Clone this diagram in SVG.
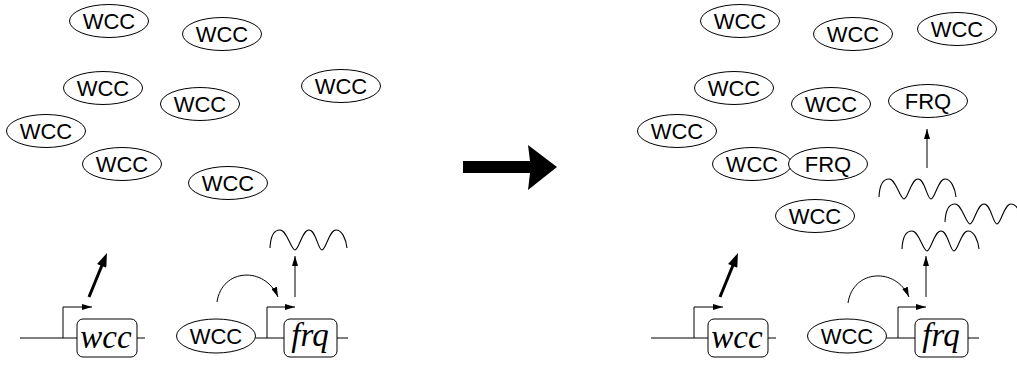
<svg xmlns="http://www.w3.org/2000/svg" width="1017" height="365" viewBox="0 0 1017 365">
<style>
.el{fill:#fff;stroke:#000;stroke-width:1}
.lb{font-family:"Liberation Sans",Arial,sans-serif;font-size:22px;text-anchor:middle;fill:#000}
.gn{font-family:"Liberation Serif","Times New Roman",serif;font-style:italic;font-size:33px;text-anchor:middle;fill:#000}
.bx{fill:#fff;stroke:#000;stroke-width:1}
.ln{fill:none;stroke:#000;stroke-width:1}
.bold{fill:none;stroke:#000;stroke-width:3}
.wv{fill:none;stroke:#000;stroke-width:1.1}
</style>
<defs>
<marker id="ah" viewBox="0 0 10 6" refX="10" refY="3" markerWidth="10" markerHeight="6" markerUnits="userSpaceOnUse" orient="auto"><path d="M0,0 L10,3 L0,6 z" fill="#000"/></marker>
<marker id="bh" viewBox="0 0 14 10" refX="3" refY="5" markerWidth="15" markerHeight="10" markerUnits="userSpaceOnUse" orient="auto"><path d="M0,0 L14,5 L0,10 z" fill="#000"/></marker>
<path id="wave" d="M270,248 C270.5,237 274,230 280,230 C287,230 291,250 295,250 C299,250 302,230 309,230 C316,230 318,250 322,250 C326,250 329,230 336,230 C342,230 346,239 347,248"/>
</defs>

<!-- Left panel free WCC -->
<g id="wcc-l1"><ellipse class="el" cx="109" cy="21" rx="39.5" ry="16.5"/><text class="lb" x="109" y="29">WCC</text></g>
<g id="wcc-l2"><ellipse class="el" cx="222" cy="34" rx="39.5" ry="16.5"/><text class="lb" x="222" y="42">WCC</text></g>
<g id="wcc-l3"><ellipse class="el" cx="103" cy="88" rx="39.5" ry="16.5"/><text class="lb" x="103" y="96">WCC</text></g>
<g id="wcc-l4"><ellipse class="el" cx="200" cy="104" rx="39.5" ry="16.5"/><text class="lb" x="200" y="112">WCC</text></g>
<g id="wcc-l5"><ellipse class="el" cx="341" cy="86" rx="39.5" ry="16.5"/><text class="lb" x="341" y="94">WCC</text></g>
<g id="wcc-l6"><ellipse class="el" cx="46" cy="131" rx="39.5" ry="16.5"/><text class="lb" x="46" y="139">WCC</text></g>
<g id="wcc-l7"><ellipse class="el" cx="122" cy="164" rx="39.5" ry="16.5"/><text class="lb" x="122" y="172">WCC</text></g>
<g id="wcc-l8"><ellipse class="el" cx="228" cy="183" rx="39.5" ry="16.5"/><text class="lb" x="228" y="191">WCC</text></g>

<!-- Left panel genes -->
<g id="gene-wcc-l">
<line class="ln" x1="20" y1="338" x2="77" y2="338"/>
<line class="ln" x1="137" y1="338" x2="145" y2="338"/>
<rect class="bx" x="77" y="319" width="60" height="38" rx="6"/>
<text class="gn" x="106" y="348">wcc</text>
</g>
<g id="wcc-bound-l"><ellipse class="el" cx="216" cy="336" rx="39.5" ry="17"/><text class="lb" x="216" y="344">WCC</text></g>
<g id="gene-frq-l">
<line class="ln" x1="255.5" y1="338" x2="284" y2="338"/>
<line class="ln" x1="337" y1="338" x2="348" y2="338"/>
<rect class="bx" x="284" y="319" width="53" height="38" rx="6"/>
<text class="gn" x="310" y="346">frq</text>
</g>
<g id="mrna-l"><use href="#wave" class="wv"/></g>

<!-- Big arrow -->
<g id="transition">
<polygon points="463,161 530,161 528,145 557,167 528,190 530,173 463,173" fill="#000"/>
</g>

<!-- Right panel -->
<g id="wcc-r1"><ellipse class="el" cx="740" cy="21" rx="39.5" ry="16.5"/><text class="lb" x="740" y="29">WCC</text></g>
<g id="wcc-r2"><ellipse class="el" cx="853" cy="34" rx="39.5" ry="16.5"/><text class="lb" x="853" y="42">WCC</text></g>
<g id="wcc-r3"><ellipse class="el" cx="957" cy="29" rx="39.5" ry="16.5"/><text class="lb" x="957" y="37">WCC</text></g>
<g id="wcc-r4"><ellipse class="el" cx="734" cy="88" rx="39.5" ry="16.5"/><text class="lb" x="734" y="96">WCC</text></g>
<g id="wcc-r5"><ellipse class="el" cx="831" cy="104" rx="39.5" ry="16.5"/><text class="lb" x="831" y="112">WCC</text></g>
<g id="frq-r1"><ellipse class="el" cx="928" cy="101" rx="39.5" ry="16.5"/><text class="lb" x="928" y="109">FRQ</text></g>
<g id="wcc-r6"><ellipse class="el" cx="677" cy="131" rx="39.5" ry="16.5"/><text class="lb" x="677" y="139">WCC</text></g>
<g id="wcc-r7"><ellipse class="el" cx="752" cy="164" rx="39.5" ry="16.5"/><text class="lb" x="752" y="172">WCC</text></g>
<g id="frq-r2"><ellipse class="el" cx="828" cy="164" rx="39.5" ry="16.5"/><text class="lb" x="828" y="172">FRQ</text></g>
<g id="wcc-r8"><ellipse class="el" cx="815" cy="216" rx="39.5" ry="16.5"/><text class="lb" x="815" y="224">WCC</text></g>

<g id="gene-wcc-r">
<line class="ln" x1="651" y1="338" x2="708" y2="338"/>
<line class="ln" x1="768" y1="338" x2="776" y2="338"/>
<rect class="bx" x="708" y="319" width="60" height="38" rx="6"/>
<text class="gn" x="737" y="348">wcc</text>
</g>
<g id="wcc-bound-r"><ellipse class="el" cx="847" cy="336" rx="39.5" ry="17"/><text class="lb" x="847" y="344">WCC</text></g>
<g id="gene-frq-r">
<line class="ln" x1="886.5" y1="338" x2="915" y2="338"/>
<line class="ln" x1="968" y1="338" x2="979" y2="338"/>
<rect class="bx" x="915" y="319" width="53" height="38" rx="6"/>
<text class="gn" x="941" y="346">frq</text>
</g>
<g id="mrna-r1"><use href="#wave" class="wv" transform="translate(609,-51)"/></g>
<g id="mrna-r2"><use href="#wave" class="wv" transform="translate(675,-26)"/></g>
<g id="mrna-r3"><use href="#wave" class="wv" transform="translate(632,1)"/></g>

<!-- Connectors -->
<g id="connectors">
<polyline class="ln" points="63,338 63,307 92,307" marker-end="url(#ah)"/>
<line class="bold" x1="89" y1="297" x2="102.8" y2="263.2" marker-end="url(#bh)"/>
<polyline class="ln" points="267,338 267,307 295,307" marker-end="url(#ah)"/>
<path class="ln" d="M217,302 C222,268 265,266 278,297" marker-end="url(#ah)"/>
<line class="ln" x1="295" y1="297" x2="295" y2="256" marker-end="url(#ah)"/>

<polyline class="ln" points="694,338 694,307 723,307" marker-end="url(#ah)"/>
<line class="bold" x1="720" y1="297" x2="733.8" y2="263.2" marker-end="url(#bh)"/>
<polyline class="ln" points="898,338 898,307 926,307" marker-end="url(#ah)"/>
<path class="ln" d="M848,303 C853,269 896,267 909,297" marker-end="url(#ah)"/>
<line class="ln" x1="926" y1="297" x2="926" y2="256" marker-end="url(#ah)"/>
<line class="ln" x1="927" y1="168" x2="927" y2="129" marker-end="url(#ah)"/>
</g>
</svg>
